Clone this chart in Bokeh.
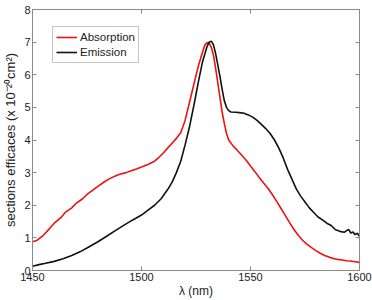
from bokeh.plotting import figure
from bokeh.models import (Range1d, LinearAxis, FixedTicker, Legend, LegendItem,
                          CustomJSTickFormatter)
from bokeh.embed import file_html
from bokeh.resources import INLINE

# Absorption cross-section (x 1e-20 cm^2) vs wavelength (nm)
lam_abs = [1450, 1452, 1455, 1458, 1460, 1463, 1465, 1468, 1470, 1473, 1475, 1478,
           1480, 1483, 1485, 1488, 1490, 1493, 1495, 1498, 1500, 1503, 1506, 1508,
           1510, 1512, 1514, 1516, 1518, 1520, 1522, 1524, 1526, 1528, 1529, 1530,
           1531, 1532, 1533, 1534, 1535, 1536, 1537, 1538, 1539, 1540, 1542, 1544,
           1546, 1548, 1550, 1552, 1554, 1556, 1558, 1560, 1562, 1564, 1566, 1568,
           1570, 1572, 1574, 1576, 1578, 1580, 1582, 1584, 1586, 1588, 1590, 1592,
           1594, 1596, 1598, 1600]
sigma_abs = [0.88, 0.92, 1.08, 1.30, 1.45, 1.62, 1.78, 1.92, 2.06, 2.20, 2.33, 2.48,
             2.58, 2.72, 2.80, 2.90, 2.95, 3.00, 3.05, 3.12, 3.17, 3.25, 3.35, 3.47,
             3.60, 3.75, 3.90, 4.05, 4.22, 4.60, 5.15, 5.70, 6.25, 6.70, 6.90, 6.98,
             6.97, 6.85, 6.60, 6.20, 5.75, 5.30, 4.85, 4.50, 4.20, 4.00, 3.82, 3.68,
             3.53, 3.38, 3.20, 3.03, 2.85, 2.68, 2.52, 2.33, 2.12, 1.90, 1.68, 1.46,
             1.25, 1.07, 0.92, 0.80, 0.70, 0.61, 0.53, 0.46, 0.41, 0.37, 0.34, 0.32,
             0.30, 0.29, 0.27, 0.25]

# Emission cross-section (x 1e-20 cm^2) vs wavelength (nm)
lam_em = [1450, 1453, 1456, 1460, 1464, 1468, 1472, 1476, 1480, 1484, 1488, 1492,
          1496, 1500, 1503, 1506, 1509, 1512, 1514, 1516, 1518, 1520, 1522, 1524,
          1526, 1528, 1530, 1531, 1532, 1533, 1534, 1535, 1536, 1537, 1538, 1539,
          1540, 1541, 1543, 1545, 1547, 1549, 1551, 1553, 1555, 1557, 1559, 1561,
          1563, 1565, 1567, 1569, 1571, 1573, 1575, 1577, 1579, 1581, 1583, 1585,
          1587, 1589, 1591, 1593, 1594, 1595, 1596, 1597, 1598, 1599, 1600]
sigma_em = [0.13, 0.18, 0.22, 0.28, 0.36, 0.46, 0.58, 0.73, 0.88, 1.05, 1.22, 1.39,
            1.55, 1.70, 1.85, 2.00, 2.20, 2.48, 2.70, 3.00, 3.35, 3.85, 4.40, 5.05,
            5.75, 6.40, 6.85, 7.00, 7.03, 6.92, 6.65, 6.30, 5.94, 5.55, 5.20, 5.00,
            4.90, 4.86, 4.85, 4.84, 4.82, 4.77, 4.70, 4.60, 4.48, 4.35, 4.20, 4.00,
            3.75, 3.45, 3.10, 2.80, 2.50, 2.28, 2.10, 1.92, 1.78, 1.64, 1.55, 1.45,
            1.38, 1.25, 1.20, 1.17, 1.22, 1.26, 1.15, 1.18, 1.10, 1.14, 1.05]

x_ticks = [1450, 1500, 1550, 1600]
y_ticks = [0, 1, 2, 3, 4, 5, 6, 7, 8]
series_names = ["Absorption", "Emission"]

FONT = "Liberation Sans"
AXIS_GRAY = "#8a8a8a"
TEXT = "#222222"

p = figure(width=372, height=300, output_backend="svg", toolbar_location=None,
           x_range=Range1d(1450, 1600), y_range=Range1d(0, 8),
           min_border_left=26, min_border_right=13, min_border_top=9,
           min_border_bottom=28)
p.grid.visible = False
p.outline_line_color = AXIS_GRAY
p.background_fill_color = "white"


def style_axis(ax, show_labels=True):
    ax.axis_line_color = AXIS_GRAY
    ax.major_tick_line_color = AXIS_GRAY
    ax.major_tick_in = 4
    ax.major_tick_out = 0
    ax.minor_tick_line_color = None
    ax.major_label_text_font = FONT
    ax.major_label_text_color = TEXT
    ax.axis_label_text_font = FONT
    ax.axis_label_text_color = TEXT
    ax.axis_label_text_font_style = "normal"
    ax.major_label_text_font_size = "11px"
    if show_labels:
        ax.major_label_standoff = 2
    else:
        # tick marks only on the mirrored box sides
        ax.formatter = CustomJSTickFormatter(code="return ''")
        ax.major_label_standoff = 0


xa = p.xaxis[0]
ya = p.yaxis[0]
xa.ticker = FixedTicker(ticks=x_ticks)
ya.ticker = FixedTicker(ticks=y_ticks)
style_axis(xa)
style_axis(ya)
xa.axis_label = "λ (nm)"
xa.axis_label_text_font_size = "12px"
xa.axis_label_standoff = 0
xa.major_label_standoff = 2
ya.axis_label = "sections efficaces (x 10⁻²⁰cm²)"
ya.axis_label_text_font_size = "13px"
ya.axis_label_standoff = 3

top = LinearAxis(ticker=FixedTicker(ticks=x_ticks))
right = LinearAxis(ticker=FixedTicker(ticks=y_ticks))
style_axis(top, show_labels=False)
style_axis(right, show_labels=False)
p.add_layout(top, "above")
p.add_layout(right, "right")

r_abs = p.line(lam_abs, sigma_abs, line_color="#ee1111", line_width=1.6)
r_em = p.line(lam_em, sigma_em, line_color="#111111", line_width=1.6)

legend = Legend(items=[LegendItem(label=series_names[0], renderers=[r_abs]),
                       LegendItem(label=series_names[1], renderers=[r_em])],
                location=(20, 207), orientation="vertical")
legend.border_line_color = AXIS_GRAY
legend.border_line_width = 1
legend.background_fill_color = "white"
legend.background_fill_alpha = 1
legend.label_text_font = FONT
legend.label_text_font_size = "11.5px"
legend.label_text_color = TEXT
legend.glyph_width = 21
legend.glyph_height = 14
legend.label_height = 14
legend.label_standoff = 3
legend.spacing = 1
legend.padding = 3
legend.margin = 0
p.add_layout(legend, "center")

open("out.html", "w").write(file_html(p, INLINE))
